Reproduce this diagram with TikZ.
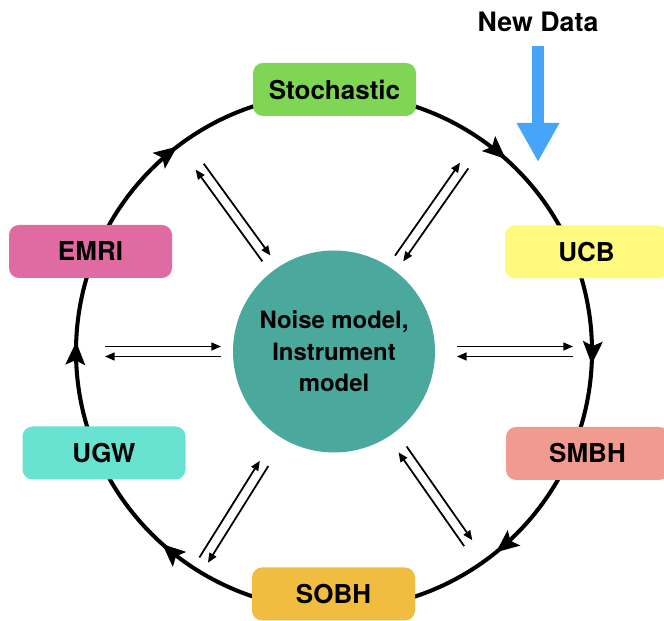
\documentclass[tikz,border=0pt]{standalone}
\usepackage{fontspec}
\setmainfont{TeX Gyre Heros}
\usepackage{tikz}
\usetikzlibrary{arrows.meta,calc,decorations.markings}
\usepackage{xcolor}
\definecolor{stochgreen}{HTML}{7FD655}
\definecolor{ucbyellow}{HTML}{FFFA7D}
\definecolor{smbhsalmon}{HTML}{F19A8F}
\definecolor{sobhorange}{HTML}{F0BD41}
\definecolor{ugwcyan}{HTML}{69E3D1}
\definecolor{emripink}{HTML}{E06BA3}
\definecolor{coreteal}{HTML}{4AA89D}
\definecolor{datablue}{HTML}{46A5F8}

\begin{document}
\begin{tikzpicture}[
        source/.style={rounded corners=0.2cm, minimum width=3.26cm, minimum height=1.06cm,
            inner sep=0pt, font=\fontsize{14.8}{18}\selectfont\bfseries},
        pair/.style={line width=1pt, -{Triangle[length=5.5pt,width=4.5pt]}},
        ring/.style={line width=2.3pt, postaction={decorate}, decoration={markings,
            mark=at position 0.116 with {\arrow{Stealth[length=13pt,width=11pt,inset=2.5pt]}},
            mark=at position 0.258 with {\arrow{Stealth[length=13pt,width=11pt,inset=2.5pt]}},
            mark=at position 0.392 with {\arrow{Stealth[length=13pt,width=11pt,inset=2.5pt]}},
            mark=at position 0.616 with {\arrow{Stealth[length=13pt,width=11pt,inset=2.5pt]}},
            mark=at position 0.756 with {\arrow{Stealth[length=13pt,width=11pt,inset=2.5pt]}},
            mark=at position 0.896 with {\arrow{Stealth[length=13pt,width=11pt,inset=2.5pt]}}}}
    ]
        \useasboundingbox (0,0) rectangle (13.28,12.42);
        \coordinate (ctr) at (6.68,5.39);
        \draw[ring] (ctr) ++(90:5.16) arc[start angle=90, end angle=-270, radius=5.16];

        \node[source, fill=stochgreen] (stoch) at (6.69,10.63) {Stochastic};
        \node[source, fill=ucbyellow] (ucb) at (11.73,7.38) {UCB};
        \node[source, fill=smbhsalmon] (smbh) at (11.75,3.35) {SMBH};
        \node[source, fill=sobhorange] (sobh) at (6.67,0.54) {SOBH};
        \node[source, fill=ugwcyan] (ugw) at (2.08,3.36) {UGW};
        \node[source, fill=emripink] (emri) at (1.81,7.39) {EMRI};

        \node[circle, fill=coreteal, minimum size=4.04cm, inner sep=0pt, align=center,
            font=\fontsize{13.6}{18}\selectfont\bfseries] (core) at (ctr)
            {Noise model,\\Instrument\\model};

        \foreach \a/\ri/\ro in {126/2.30/4.57, 55/2.27/4.54, 0/2.46/4.78,
                                -55/2.39/4.68, -122/2.64/4.92, 180/2.26/4.58}
        {
            \draw[pair] ($(core.center)+(\a:\ri)+(\a+90:0.1)$) -- ($(core.center)+(\a:\ro)+(\a+90:0.1)$);
            \draw[pair] ($(core.center)+(\a:\ro)+(\a-90:0.1)$) -- ($(core.center)+(\a:\ri)+(\a-90:0.1)$);
        }

        \node[inner sep=0pt, font=\fontsize{15.2}{18}\selectfont\bfseries] (newdata) at (10.76,11.98) {New Data};
        \coordinate (drop) at (10.76,9.18);
        \draw[datablue, line width=0.24cm, shorten <=0.27cm,
            -{Triangle[length=0.78cm,width=0.8cm]}] (newdata.south) -- (drop);
    \end{tikzpicture}
\end{document}
